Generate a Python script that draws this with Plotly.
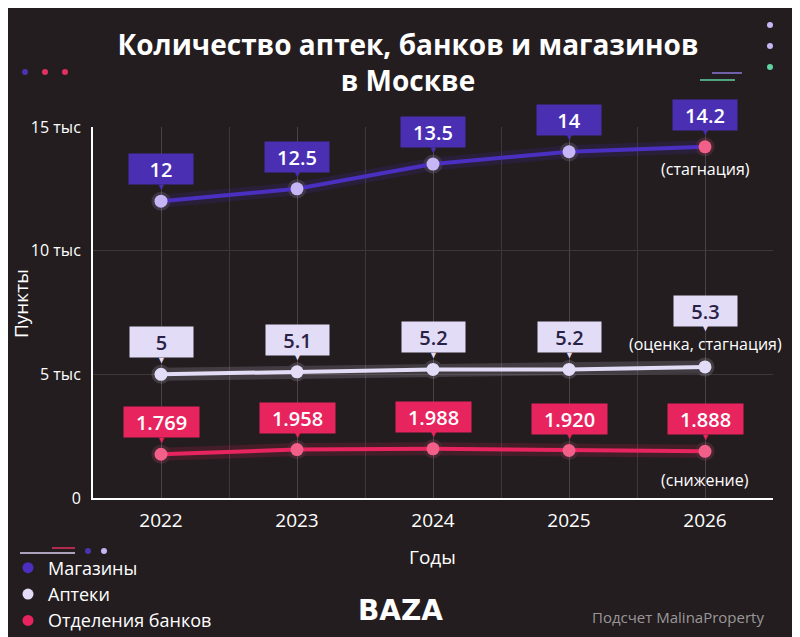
"""Number of pharmacies, banks and shops in Moscow, dark infographic style."""
import plotly.graph_objects as go

# data (thousands of points)
years = [2022, 2023, 2024, 2025, 2026]
shops = [12.0, 12.5, 13.5, 14.0, 14.2]
pharmacies = [5.0, 5.1, 5.2, 5.2, 5.3]
banks = [1.769, 1.958, 1.988, 1.920, 1.888]

shop_labels = ['12', '12.5', '13.5', '14', '14.2']
pharmacy_labels = ['5', '5.1', '5.2', '5.2', '5.3']
bank_labels = ['1.769', '1.958', '1.988', '1.920', '1.888']

y_ticks = [0, 5, 10, 15]
y_tick_labels = ['0', '5 тыс', '10 тыс', '15 тыс']

series_names = ['Магазины', 'Аптеки', 'Отделения банков']
notes = ['(стагнация)', '(оценка, стагнация)', '(снижение)']

BG = '#231d1f'
PURPLE = '#4a2fc0'
PURPLE_BOX = '#4a2fb3'
LAVENDER = '#e2dcf7'
LAVENDER_DOT = '#c6b6f6'
PINK = '#e8245f'
PINK_DOT = '#f2608a'
FONT = 'Open Sans'

# the page body has an 8px margin, so the figure sits 8px right and down
OFF = 8
# plot area in figure pixels
L, R, T, B = 93 - OFF, 773 - OFF, 127 - OFF, 498 - OFF


def px(x: float) -> float:
    """Horizontal page pixel -> paper coordinate."""
    return (x - OFF - L) / (R - L)


def py(y: float) -> float:
    """Vertical page pixel -> paper coordinate."""
    return (B - (y - OFF)) / (B - T)


fig = go.Figure()

series = [
    (shops, PURPLE, [LAVENDER_DOT] * 4 + [PINK_DOT]),
    (pharmacies, LAVENDER, [LAVENDER] * 5),
    (banks, PINK, [PINK_DOT] * 5),
]

# soft glow under each line, then the line itself
for values, colour, dots in series:
    fig.add_trace(go.Scatter(x=years, y=values, mode='lines+markers',
                             line=dict(color=colour, width=13),
                             marker=dict(size=19, color=dots),
                             opacity=0.16, hoverinfo='skip', showlegend=False))
    fig.add_trace(go.Scatter(x=years, y=values, mode='lines+markers',
                             line=dict(color=colour, width=4),
                             marker=dict(size=13, color=dots),
                             showlegend=False))

# legend entries: dots only
for name, colour in zip(series_names, [PURPLE, LAVENDER, PINK]):
    fig.add_trace(go.Scatter(x=[None], y=[None], mode='markers', name=name,
                             marker=dict(size=11, color=colour)))

# value boxes with a small pointer under them
box_styles = [
    (shops, shop_labels, PURPLE_BOX, 'white', 64),
    (pharmacies, pharmacy_labels, LAVENDER, '#2a2245', 63),
    (banks, bank_labels, PINK, 'white', 75),
]
for values, labels, bg, fg, width in box_styles:
    for i, (yr, val, lab) in enumerate(zip(years, values, labels)):
        shift = 32
        if values is pharmacies and i == len(years) - 1:
            shift = 56
        fig.add_annotation(x=yr, y=val, text='▼', showarrow=False,
                           yshift=shift - 17,
                           font=dict(family=FONT, size=9, color=bg))
        fig.add_annotation(x=yr, y=val, text=lab, showarrow=False,
                           yshift=shift, width=width - 8, height=22,
                           bgcolor=bg, borderpad=4,
                           font=dict(family=FONT, size=20, color=fg, weight=600))

# notes next to the 2026 points
for values, note, shift in zip([shops, pharmacies, banks], notes, [-22, 23, -29]):
    fig.add_annotation(x=years[-1], y=values[-1], text=note, showarrow=False,
                       yshift=shift,
                       font=dict(family=FONT, size=16, color='white'))

# axis titles
fig.add_annotation(x=px(21), y=py(304), xref='paper', yref='paper',
                   xanchor='center', yanchor='middle',
                   text='Пункты', textangle=-90, showarrow=False,
                   font=dict(family=FONT, size=19, color='white'))
fig.add_annotation(x=px(432), y=py(557), xref='paper', yref='paper',
                   xanchor='center', yanchor='middle',
                   text='Годы', showarrow=False,
                   font=dict(family=FONT, size=19, color='white'))

# source and logo
fig.add_annotation(x=px(400), y=py(610), xref='paper', yref='paper', text='BAZA',
                   xanchor='center', yanchor='middle', showarrow=False,
                   font=dict(family='DejaVu Sans', size=28, color='white',
                             weight='bold'))
fig.add_annotation(x=px(766), y=py(617), xref='paper', yref='paper',
                   text='Подсчет MalinaProperty', showarrow=False,
                   xanchor='right', yanchor='middle',
                   font=dict(family=FONT, size=15, color='#9b9799'))

# decorative dots and dashes
deco = [
    (25, 72, '#4a35b0'), (45, 72, '#e0305f'), (65, 72, '#e0305f'),
    (770, 25, LAVENDER_DOT), (770, 46, LAVENDER_DOT), (770, 67, '#5fd3a2'),
    (88, 551, '#4a35b0'), (104, 551, LAVENDER_DOT),
]
for cx, cy, col in deco:
    fig.add_shape(type='circle', xref='paper', yref='paper',
                  x0=px(cx - 3), x1=px(cx + 3), y0=py(cy + 3), y1=py(cy - 3),
                  fillcolor=col, line_width=0)
for x0, x1, ly, col in [(712, 742, 73, '#8a78d8'), (700, 735, 80, '#5fd3a2'),
                        (20, 75, 553, '#d8d0f0'), (52, 75, 548, '#e0305f')]:
    fig.add_shape(type='line', xref='paper', yref='paper',
                  x0=px(x0), x1=px(x1), y0=py(ly), y1=py(ly),
                  line=dict(color=col, width=1.5))

fig.update_layout(
    width=800, height=637,
    paper_bgcolor=BG, plot_bgcolor=BG,
    margin=dict(l=L, r=800 - R, t=T, b=637 - B, autoexpand=False),
    title=dict(text='Количество аптек, банков и магазинов<br>в Москве',
               x=0.5, xanchor='center', y=0.927, yanchor='top',
               font=dict(family=FONT, size=28, color='white', weight='bold')),
    font=dict(family=FONT, color='white'),
    legend=dict(xref='container', yref='container', x=0.0, y=0.15,
                xanchor='left', yanchor='top',
                font=dict(family=FONT, size=18, color='white'),
                bgcolor='rgba(0,0,0,0)', itemwidth=30),
    showlegend=True,
)
fig.update_xaxes(range=[2021.5, 2026.5], tickvals=years,
                 ticktext=[str(y) for y in years], ticks='',
                 showgrid=True, gridcolor='#4a4446', gridwidth=1,
                 minor=dict(dtick=0.5, tick0=2021.5, showgrid=True,
                            gridcolor='#3d3739'),
                 showline=True, linecolor='white', linewidth=2,
                 zeroline=False, ticklabelstandoff=4,
                 tickfont=dict(family=FONT, size=19, color='white'))
fig.update_yaxes(range=[0, 15], tickvals=y_ticks, ticktext=y_tick_labels,
                 showgrid=True, gridcolor='#3d3739', gridwidth=1,
                 showline=True, linecolor='white', linewidth=2,
                 zeroline=False, ticks='', ticklabelstandoff=7,
                 tickfont=dict(family=FONT, size=16, color='white'))

fig.write_html("out.html")
